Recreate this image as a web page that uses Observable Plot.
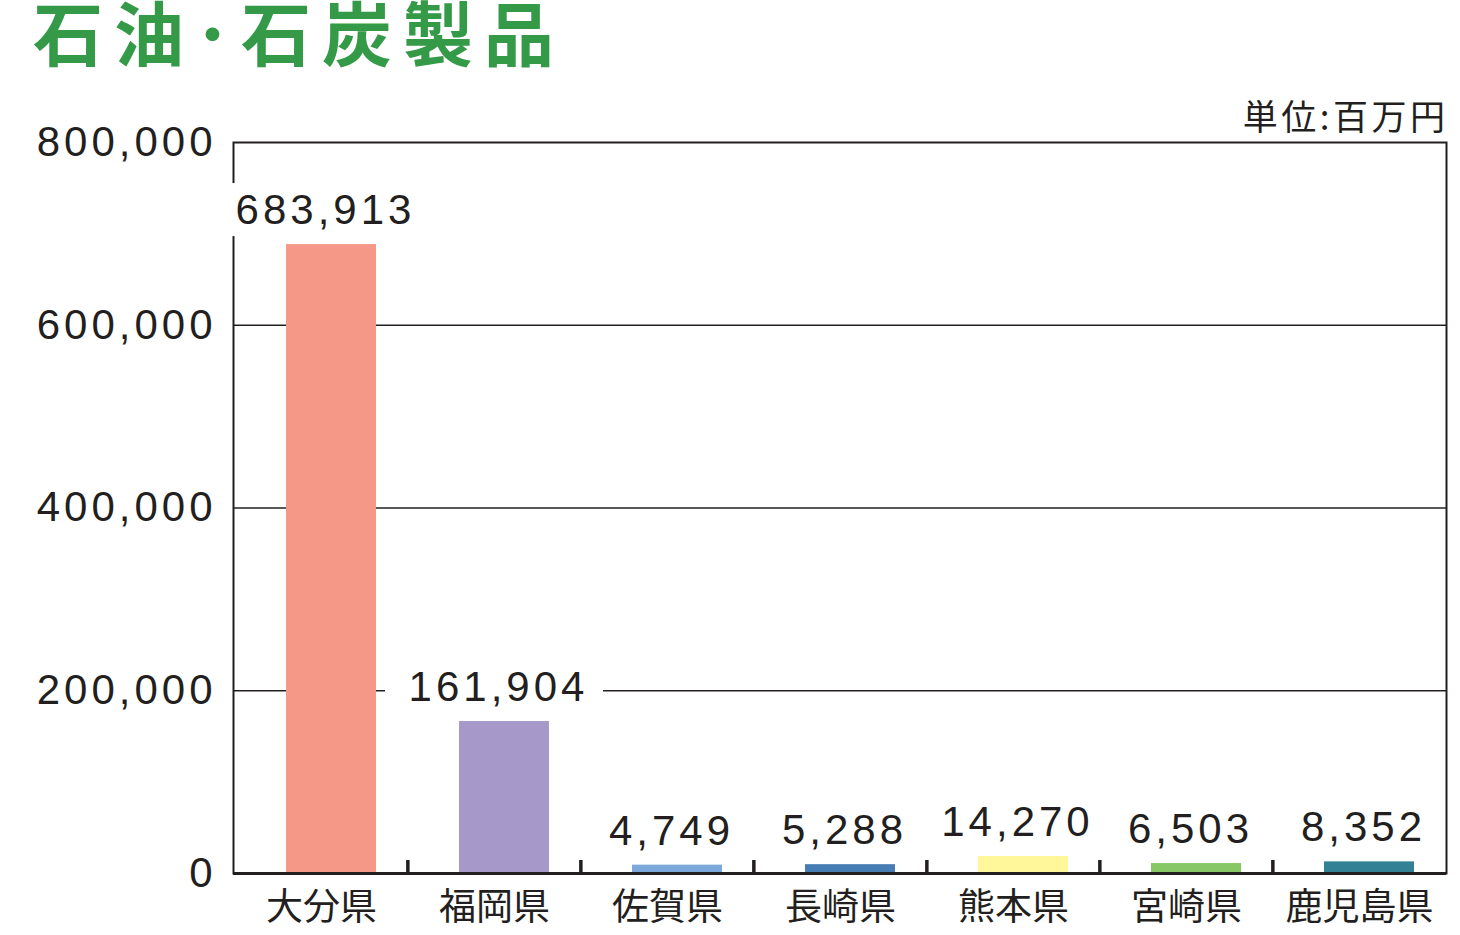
<!DOCTYPE html>
<html>
<head>
<meta charset="utf-8">
<script src="https://cdn.jsdelivr.net/npm/d3@7"></script>
<script src="https://cdn.jsdelivr.net/npm/@observablehq/plot@0.6"></script>
<style>
  html, body { margin: 0; padding: 0; background: #fff; }
  #wrap { width: 1460px; height: 935px; position: relative; overflow: hidden; }
  #title { height: 90px; margin: 0; padding-left: 33px; font-family: "Noto Sans CJK JP", sans-serif; font-weight: 700; font-size: 70px; line-height: 62px; letter-spacing: 11px; color: #349a47; white-space: nowrap; }
  svg text.num, svg g.num text { letter-spacing: 4px; }
  svg g.unit text { letter-spacing: 3.5px; }
</style>
</head>
<body>
<div id="wrap">
  <div id="title">石油･石炭製品</div>
  <div id="chart"></div>
</div>
<script>
const prefectures = ["大分県", "福岡県", "佐賀県", "長崎県", "熊本県", "宮崎県", "鹿児島県"];
const values = [683913, 161904, 4749, 5288, 14270, 6503, 8352];
const colors = ["#f59887", "#a698c9", "#7ba7d9", "#467db5", "#fff799", "#88c766", "#338195"];
const yTicks = [0, 200000, 400000, 600000, 800000];
const gridValues = [200000, 400000, 600000];
const unitLabel = "単位:百万円";

const data = prefectures.map((p, i) => ({pref: p, value: values[i], color: colors[i]}));
const fmt = d3.format(",");

const W = 1460, H = 845, mL = 233, mR = 14, mT = 52, mB = 62;
const step = (W - mL - mR) / prefectures.length;
const ink = "#231f20";
const numFont = "'Liberation Sans', Arial, sans-serif";
const cjkFont = "'Noto Sans CJK JP', sans-serif";

const chart = Plot.plot({
  width: W,
  height: H,
  marginLeft: mL,
  marginRight: mR,
  marginTop: mT,
  marginBottom: mB,
  x: {type: "band", domain: prefectures, paddingInner: 0.48, paddingOuter: 0.24},
  y: {domain: [0, 800000]},
  color: {type: "identity"},
  marks: [
    Plot.ruleY(gridValues, {stroke: ink, strokeWidth: 1.6}),
    Plot.frame({stroke: ink, strokeWidth: 2}),
    // white backing boxes behind the value labels that cross a line
    Plot.rect(data, {filter: d => d.value > 100000, x: "pref", y1: "value", y2: "value", insetTop: -65, insetBottom: 12, insetLeft: -64, insetRight: -64, fill: "white"}),
    Plot.barY(data, {x: "pref", y: "value", fill: "color", dx: 10, insetTop: -4}),
    Plot.text(data, {
      x: "pref", y: "value", text: d => fmt(d.value), dy: -38, dx: 4, lineAnchor: "middle",
      fill: ink, fontSize: 42, fontFamily: numFont, className: "num"
    }),
    Plot.ruleY([0], {stroke: ink, strokeWidth: 3}),
    Plot.ruleX(prefectures.slice(1), {x: d => d, y1: 0, y2: 0, insetTop: -13, dx: -step / 2, stroke: ink, strokeWidth: 3.5}),
    Plot.axisY({ticks: yTicks, tickSize: 0, tickPadding: 17, tickFormat: fmt, label: null, fontSize: 42, fontFamily: numFont, fill: ink, className: "num"}),
    Plot.axisX({tickSize: 0, tickPadding: 20, label: null, fontSize: 37, fontFamily: cjkFont, fill: ink}),
    Plot.text([unitLabel], {frameAnchor: "top-right", dy: -24, dx: 2, lineAnchor: "middle", textAnchor: "end", fontSize: 35, fontFamily: cjkFont, fill: ink, className: "unit"})
  ]
});
document.getElementById("chart").appendChild(chart);
</script>
</body>
</html>
